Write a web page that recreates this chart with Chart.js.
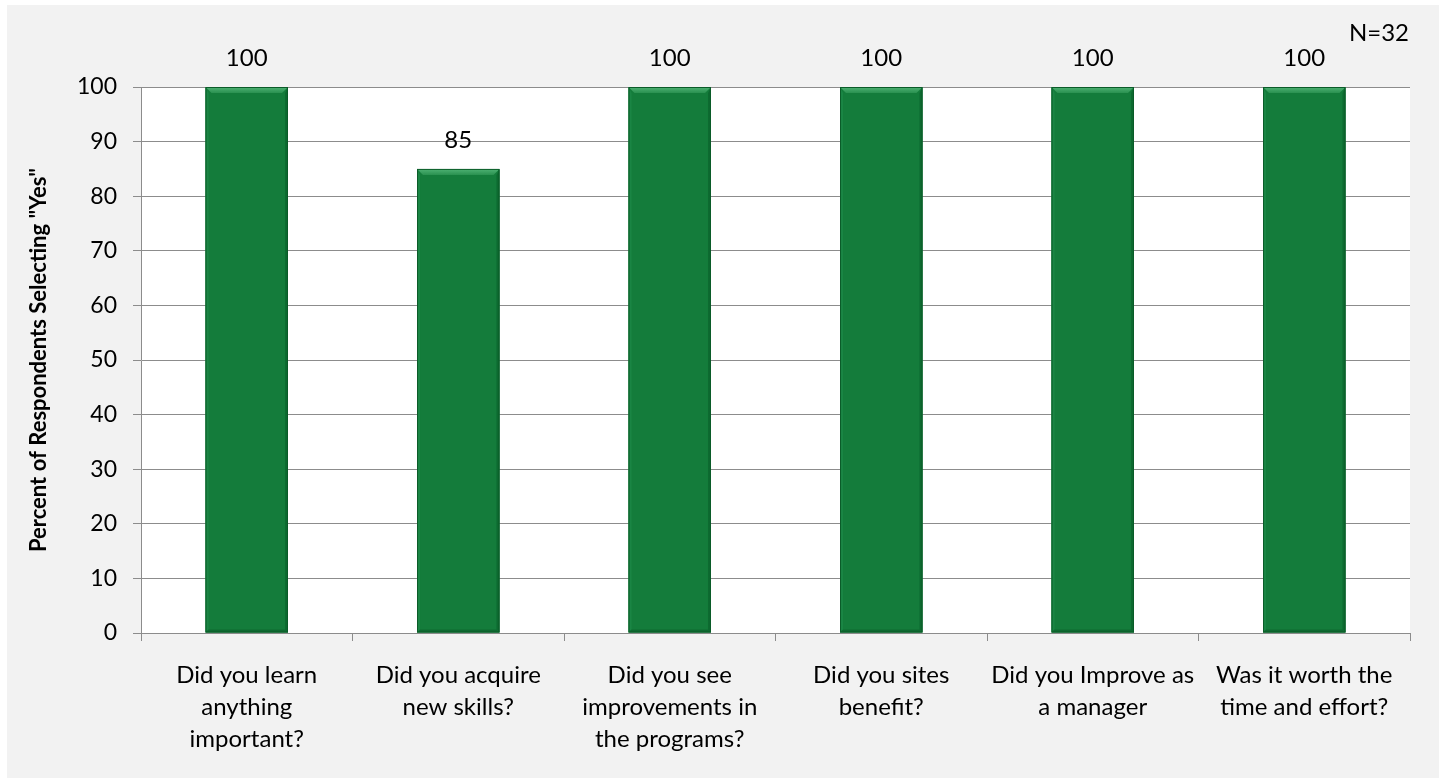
<!DOCTYPE html>
<html>
<head>
<meta charset="utf-8">
<script src="https://cdn.jsdelivr.net/npm/chart.js@4.4.0/dist/chart.umd.min.js"></script>
<style>
  html, body { margin: 0; padding: 0; background: #fff; }
  #wrap { width: 1443px; height: 782px; }
</style>
</head>
<body>
<div id="wrap"><canvas id="myChart" width="1443" height="782"></canvas></div>
<script>
const questions = [
  ['Did you learn', 'anything', 'important?'],
  ['Did you acquire', 'new skills?'],
  ['Did you see', 'improvements in', 'the programs?'],
  ['Did you sites', 'benefit?'],
  ['Did you Improve as', 'a manager'],
  ['Was it worth the', 'time and effort?']
];
const percentYes = [100, 85, 100, 100, 100, 100];
const yTicks = [0, 10, 20, 30, 40, 50, 60, 70, 80, 90, 100];
const sampleNote = 'N=32';

const fontName = 'Lato, "Open Sans", sans-serif';

const fondPlugin = {
  id: 'fond',
  beforeDraw: (chart) => {
    const c = chart.ctx;
    const a = chart.chartArea;
    c.save();
    c.fillStyle = '#ffffff';
    c.fillRect(0, 0, chart.width, chart.height);
    c.fillStyle = '#f2f2f2';
    c.fillRect(7, 5, 1432, 773);
    c.fillStyle = '#ffffff';
    c.fillRect(a.left, a.top, a.right - a.left, a.bottom - a.top);
    c.restore();
  }
};

// petit effet biseau sur les barres, a partir des positions calculees par Chart.js
const biseau = {
  id: 'biseau',
  afterDatasetsDraw: (chart) => {
    const c = chart.ctx;
    const meta = chart.getDatasetMeta(0);
    const b = 6;
    c.save();
    meta.data.forEach((bar) => {
      const x0 = bar.x - bar.width / 2, x1 = bar.x + bar.width / 2;
      const y0 = bar.y, y1 = bar.base;
      let g = c.createLinearGradient(0, y0, 0, y0 + b);
      g.addColorStop(0, '#4fb274');
      g.addColorStop(1, '#2a9150');
      c.fillStyle = g;
      c.beginPath();
      c.moveTo(x0, y0); c.lineTo(x1, y0); c.lineTo(x1 - b, y0 + b); c.lineTo(x0 + b, y0 + b);
      c.closePath(); c.fill();
      c.fillStyle = '#0d6a30';
      c.beginPath();
      c.moveTo(x1, y0); c.lineTo(x1, y1); c.lineTo(x1 - 3, y1 - 3); c.lineTo(x1 - 3, y0 + b);
      c.closePath(); c.fill();
      c.fillStyle = '#1a8544';
      c.beginPath();
      c.moveTo(x0, y0); c.lineTo(x0 + 3, y0 + b); c.lineTo(x0 + 3, y1 - 3); c.lineTo(x0, y1);
      c.closePath(); c.fill();
      c.fillStyle = '#0e6a31';
      c.beginPath();
      c.moveTo(x0, y1); c.lineTo(x0 + 3, y1 - 3); c.lineTo(x1 - 3, y1 - 3); c.lineTo(x1, y1);
      c.closePath(); c.fill();
      c.strokeStyle = '#0b5c29';
      c.lineWidth = 1;
      c.strokeRect(x0 + 0.5, y0 + 0.5, x1 - x0 - 1, y1 - y0 - 1);
    });
    c.restore();
  }
};

const etiquettes = {
  id: 'etiquettes',
  afterDatasetsDraw: (chart) => {
    const c = chart.ctx;
    const meta = chart.getDatasetMeta(0);
    c.save();
    c.font = '24px ' + fontName;
    c.fillStyle = '#000';
    c.textAlign = 'center';
    c.textBaseline = 'middle';
    meta.data.forEach((bar, i) => {
      c.fillText(String(percentYes[i]), bar.x, bar.y - 29);
    });
    c.textAlign = 'right';
    c.fillText(sampleNote, 1409, 33);
    c.restore();
  }
};

const ctx = document.getElementById('myChart');
const myChart = new Chart(ctx, {
  type: 'bar',
  data: {
    labels: questions,
    datasets: [{
      data: percentYes,
      backgroundColor: '#147c3b',
      borderWidth: 0,
      categoryPercentage: 1,
      barPercentage: 0.39
    }]
  },
  options: {
    responsive: false,
    animation: false,
    layout: { padding: { left: 0, top: 87, right: 33, bottom: 0 } },
    plugins: { legend: { display: false }, tooltip: { enabled: false } },
    scales: {
      x: {
        offset: true,
        afterFit: (scale) => { scale.height = 149; },
        grid: { offset: true, drawOnChartArea: false, tickLength: 8, color: '#8c8c8c' },
        border: { color: '#8c8c8c', width: 1 },
        ticks: { color: '#000', font: { family: fontName, size: 24, lineHeight: 1.33 }, padding: 18, maxRotation: 0, autoSkip: false }
      },
      y: {
        min: 0,
        max: 100,
        afterFit: (scale) => { scale.width = 141; },
        afterBuildTicks: (scale) => { scale.ticks = yTicks.map(v => ({ value: v })); },
        grid: { color: '#8c8c8c', tickLength: 8 },
        border: { color: '#8c8c8c', width: 1 },
        ticks: { color: '#000', font: { family: fontName, size: 23 }, padding: 16 },
        title: {
          display: true,
          text: 'Percent of Respondents Selecting "Yes"',
          color: '#000',
          font: { family: fontName, size: 22, weight: 'bold' },
          padding: { top: 26, bottom: 0 }
        }
      }
    }
  },
  plugins: [fondPlugin, biseau, etiquettes]
});
</script>
</body>
</html>
